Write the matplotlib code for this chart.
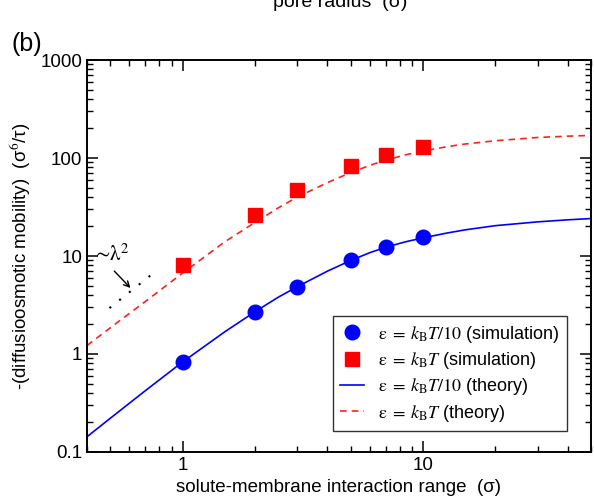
import matplotlib
matplotlib.use("Agg")
import matplotlib.pyplot as plt

plt.rcParams['font.family'] = ['Liberation Sans', 'DejaVu Sans']
plt.rcParams['mathtext.fontset'] = 'stix'

# simulation points
sim_x = [1, 2, 3, 5, 7, 10]
sim_weak = [0.83, 2.70, 4.86, 9.1, 12.3, 15.5]
sim_strong = [8.0, 26.2, 47, 83, 107, 130]

# theory curves
th_x = [0.4, 0.5, 0.7, 1, 1.5, 2, 2.5, 3, 4, 5, 6, 7, 8.5, 10, 12.5, 15, 20, 30, 40, 50]
th_weak = [0.143, 0.221, 0.423, 0.83, 1.69, 2.70, 3.80, 4.86, 7.0, 9.0, 10.8, 12.3, 14.0, 15.3,
           17.1, 18.5, 20.4, 22.3, 23.4, 24.1]
th_strong = [1.22, 1.85, 3.44, 6.7, 14.0, 22.0, 31, 40, 56, 71, 84, 95, 108, 118,
             130, 139, 150, 162, 167, 170]

# ~lambda^2 guide
guide_x = [0.496, 0.769]
guide_y = [2.94, 6.92]

fig = plt.figure(figsize=(5.94, 5.03), dpi=100)
ax = fig.add_axes([87/594, 1 - 452/503, (591-87)/594, (452-60)/503])

eps = r'$\mathrm{\varepsilon}\;=\;k_\mathrm{B}T'
ax.plot(th_x, th_weak, '-', color='blue', lw=1.2, label=eps + r'/10$ (theory)')
ax.plot(th_x, th_strong, '--', color='#ff2020', lw=1.2, dashes=(4, 3), label=eps + r'$ (theory)')
ax.plot(sim_x, sim_weak, 'o', color='blue', ms=10.5, label=eps + r'/10$ (simulation)')
ax.plot(sim_x, sim_strong, 's', color='red', ms=9.5, label=eps + r'$ (simulation)')
ax.plot(guide_x, guide_y, ':', color='black', lw=1.5, dashes=(1, 5))

ax.annotate('', xy=(0.618, 4.5), xytext=(0.51, 7.36),
            arrowprops=dict(arrowstyle='->', color='black', lw=1.0))
ax.text(0.418, 10.4, r'$\sim\!\mathrm{\lambda}^2$', fontsize=15, ha='left', va='center')

ax.set_xscale('log')
ax.set_yscale('log')
ax.set_xlim(0.4, 50)
ax.set_ylim(0.1, 1000)
ax.set_xticks([1, 10])
ax.set_xticklabels(['1', '10'])
ax.set_yticks([0.1, 1, 10, 100, 1000])
ax.set_yticklabels(['0.1', '1', '10', '100', '1000'])
ax.tick_params(which='both', direction='in', top=True, right=True, labelsize=13.5)
ax.tick_params(which='major', length=8, width=1.1)
ax.tick_params(which='minor', length=4.5, width=1.0)
for s in ax.spines.values():
    s.set_linewidth(1.4)

ax.set_xlabel('solute-membrane interaction range  (σ)', fontsize=13.5, labelpad=4)
ax.set_ylabel('-(diffusioosmotic mobility)  (σ$^6$/τ)', fontsize=13.5, labelpad=5)

h, l = ax.get_legend_handles_labels()
order = [2, 3, 0, 1]
leg = ax.legend([h[i] for i in order], [l[i] for i in order], loc='lower right',
                bbox_to_anchor=(567/594, 1 - 431/503), bbox_transform=fig.transFigure,
                borderaxespad=0, fontsize=13, frameon=True, fancybox=False,
                handlelength=1.3, borderpad=0.4, labelspacing=0.3, handletextpad=0.8)
leg.get_frame().set_edgecolor('black')
leg.get_frame().set_linewidth(1.0)

fig.text(0.02, 1 - 51/503, '(b)', fontsize=18, va='baseline')
fig.text(340/594, 1 - 7/503, 'pore radius  (σ)', fontsize=14, ha='center', va='baseline')

fig.savefig('out.png', dpi=100)
